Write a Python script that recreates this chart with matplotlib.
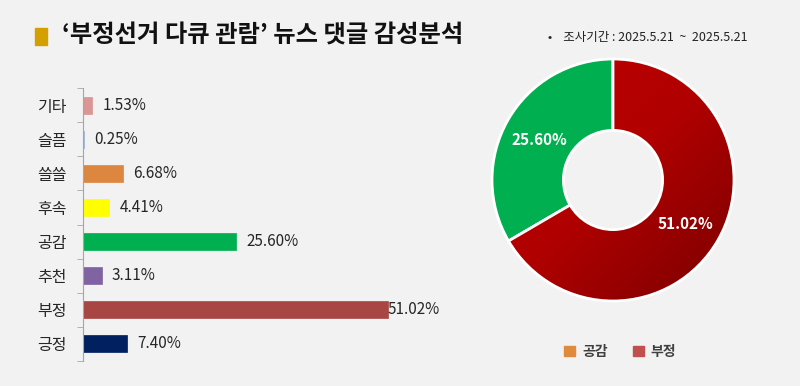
import numpy as np
import matplotlib
matplotlib.use("Agg")
import matplotlib.pyplot as plt
from matplotlib.patches import Patch, Rectangle
from matplotlib.colors import LinearSegmentedColormap

plt.rcParams['font.family'] = ['Noto Sans CJK KR', 'DejaVu Sans']

# bar data (bottom to top)
cats = ['긍정', '부정', '추천', '공감', '후속', '쓸쓸', '슬픔', '기타']
vals = [7.40, 51.02, 3.11, 25.60, 4.41, 6.68, 0.25, 1.53]
bar_colors = ['#002060', '#A84644', '#8064A2', '#00B050', '#FFFF00', '#DD8640', '#95B3D7', '#D99694']

# donut data
donut_labels = ['부정', '공감']
donut_vals = [51.02, 25.60]
legend_labels = ['공감', '부정']
legend_colors = ['#E08A3C', '#C0504D']

bg = '#F2F2F2'
fig = plt.figure(figsize=(8, 3.86), dpi=100, facecolor=bg)

# title
fig.patches.append(Rectangle((35 / 800, 1 - 45 / 386), 12 / 800, 17 / 386,
                             transform=fig.transFigure, color='#D4A000'))
fig.text(62 / 800, 1 - 36 / 386, '‘부정선거 다큐 관람’ 뉴스 댓글 감성분석',
         fontsize=17.5, fontweight='bold', color='#111111', va='center', ha='left')
fig.text(548 / 800, 1 - 37 / 386, '•    조사기간 : 2025.5.21  ~  2025.5.21',
         fontsize=9, color='#222222', va='center', ha='left')

# bar chart
ax = fig.add_axes([83 / 800, 25 / 386, 360 / 800, 273 / 386], facecolor=bg)
y = np.arange(len(cats))
ax.barh(y, vals, height=0.5, color=bar_colors, edgecolor=bar_colors, linewidth=0.5)
ax.set_xlim(0, 60.2)
ax.set_ylim(-0.5, len(cats) - 0.5)
for s in ['top', 'right', 'bottom']:
    ax.spines[s].set_visible(False)
ax.spines['left'].set_color('#A6A6A6')
ax.set_xticks([])
ax.set_yticks(y)
ax.set_yticklabels(cats, fontsize=11.5, color='#262626')
ax.tick_params(axis='y', which='major', length=0, pad=12)
ax.set_yticks(np.arange(-0.5, len(cats)), minor=True)
ax.tick_params(axis='y', which='minor', length=4, color='#A6A6A6')
for yi, v in zip(y, vals):
    off = -1 if v > 50 else 10
    ax.annotate(f'{v:.2f}%', (v, yi), xytext=(off, 0), textcoords='offset pixels',
                va='center', ha='left', fontsize=11, color='#262626')

# donut chart
R = 121
ax2 = fig.add_axes([(613 - 1.1 * R) / 800, (386 - 180 - 1.1 * R) / 386,
                    2.2 * R / 800, 2.2 * R / 386], facecolor=bg)
wedges, _ = ax2.pie(donut_vals, colors=['#A00000', '#00B050'], startangle=90,
                    counterclock=False, radius=1,
                    wedgeprops=dict(width=0.59, edgecolor='white', linewidth=2))
ax2.set_xlim(-1.1, 1.1)
ax2.set_ylim(-1.1, 1.1)
ax2.set_aspect('equal')
ax2.axis('off')
cmap = LinearSegmentedColormap.from_list('red', ['#C00000', '#B00000', '#7A0000'])
gx, gy = np.meshgrid(np.linspace(-1, 1, 200), np.linspace(1, -1, 200))
grad = (gx - gy) / 2
im = ax2.imshow(grad, extent=[-1, 1, -1, 1], cmap=cmap, origin='upper', zorder=wedges[0].get_zorder() + 0.1)
im.set_clip_path(wedges[0])
wedges[0].set_zorder(wedges[0].get_zorder() + 0.2)
wedges[0].set_facecolor('none')
ax2.text(0.60, -0.36, '51.02%', color='white', fontsize=11, fontweight='bold', ha='center', va='center')
ax2.text(-0.61, 0.33, '25.60%', color='white', fontsize=11, fontweight='bold', ha='center', va='center')

handles = [Patch(color=c) for c in legend_colors]
leg = fig.legend(handles, legend_labels, loc='center', bbox_to_anchor=(620 / 800, 1 - 352 / 386),
                 ncol=2, frameon=False, handlelength=0.8, handleheight=0.8, columnspacing=1.8,
                 handletextpad=0.5, prop={'size': 10, 'weight': 'bold'})
for t in leg.get_texts():
    t.set_color('#404040')

fig.savefig('out.png', dpi=100, facecolor=bg)
